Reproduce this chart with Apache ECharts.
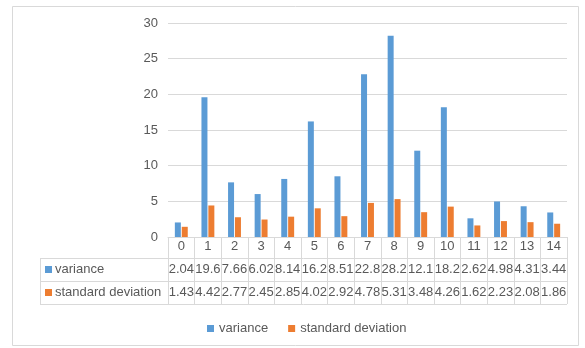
<!DOCTYPE html>
<html><head><meta charset="utf-8">
<script src="https://cdn.jsdelivr.net/npm/echarts@6/dist/echarts.min.js"></script>
<style>html,body{margin:0;padding:0;background:#fff}#c{width:585px;height:348px}</style>
</head><body><div id="c"></div>
<script>
var categories = ['0','1','2','3','4','5','6','7','8','9','10','11','12','13','14'];
var variance = [2.04,19.6,7.66,6.02,8.14,16.2,8.51,22.8,28.2,12.1,18.2,2.62,4.98,4.31,3.44];
var stdDev = [1.43,4.42,2.77,2.45,2.85,4.02,2.92,4.78,5.31,3.48,4.26,1.62,2.23,2.08,1.86];
var seriesNames = ['variance','standard deviation'];
var yTicks = [0,5,10,15,20,25,30];

var FONT = '"Liberation Sans Narrow","Liberation Sans",sans-serif';
var FS = 13;
var TXT = '#595959';
var LINE = '#d9d9d9';
var BLUE = '#5b9bd5', ORANGE = '#ed7d31';

var chart = echarts.init(document.getElementById('c'), null, {renderer:'canvas'});
var gridL = 168, gridR = 567, gridT = 23, gridB = 237;
var tableL = 40;
var rowY = [237, 258, 281, 304];

var graphics = [
  {type:'rect', shape:{x:12.5,y:6.5,width:566,height:339}, style:{fill:'none',stroke:LINE,lineWidth:1}, silent:true},
  {type:'line', shape:{x1:tableL,y1:rowY[1]+0.5,x2:gridR,y2:rowY[1]+0.5}, style:{stroke:LINE}},
  {type:'line', shape:{x1:tableL,y1:rowY[2]+0.5,x2:gridR,y2:rowY[2]+0.5}, style:{stroke:LINE}},
  {type:'line', shape:{x1:tableL,y1:rowY[3]+0.5,x2:gridR,y2:rowY[3]+0.5}, style:{stroke:LINE}},
  {type:'line', shape:{x1:tableL+0.5,y1:rowY[1],x2:tableL+0.5,y2:rowY[3]}, style:{stroke:LINE}},
  {type:'rect', shape:{x:45,y:266,width:7,height:7}, style:{fill:BLUE}},
  {type:'text', x:55, y:269.5, style:{text:seriesNames[0], font:FS+'px '+FONT, fill:TXT, textVerticalAlign:'middle'}},
  {type:'rect', shape:{x:45,y:289,width:7,height:7}, style:{fill:ORANGE}},
  {type:'text', x:55, y:292.5, style:{text:seriesNames[1], font:FS+'px '+FONT, fill:TXT, textVerticalAlign:'middle'}}
];

function hiddenAxisFor(values, offset) {
  return {
    type:'category', data: values.map(String), position:'bottom', offset: offset,
    axisLine:{show:false}, axisTick:{show:false}, splitLine:{show:false},
    axisLabel:{color:TXT, fontSize:FS, fontFamily:FONT, interval:0, margin:4}
  };
}

chart.setOption({
  animation:false,
  backgroundColor:'#fff',
  textStyle:{fontFamily:FONT},
  grid:{left:gridL, right:585-gridR, top:gridT, bottom:348-gridB, containLabel:false},
  legend:{
    data:seriesNames, top:317, left:202, icon:'rect', itemWidth:7, itemHeight:7, itemGap:20,
    textStyle:{color:TXT, fontSize:FS, fontFamily:FONT}
  },
  xAxis:[
    {
      type:'category', data:categories,
      axisLine:{show:true, lineStyle:{color:LINE}},
      axisTick:{show:true, length:67, interval:0, lineStyle:{color:LINE}},
      axisLabel:{color:TXT, fontSize:FS, fontFamily:FONT, interval:0, margin:3},
      splitLine:{show:false}
    },
    hiddenAxisFor(variance, 22),
    hiddenAxisFor(stdDev, 45)
  ],
  yAxis:{
    type:'value', min:yTicks[0], max:yTicks[yTicks.length-1], interval:5,
    axisLine:{show:false}, axisTick:{show:false},
    axisLabel:{color:TXT, fontSize:FS, fontFamily:FONT, margin:10},
    splitLine:{lineStyle:{color:LINE}}
  },
  series:[
    {name:seriesNames[0], type:'bar', data:variance, barWidth:6, barGap:'15%', itemStyle:{color:BLUE}},
    {name:seriesNames[1], type:'bar', data:stdDev, barWidth:6, barGap:'15%', itemStyle:{color:ORANGE}}
  ],
  graphic:graphics
});
</script>
</body></html>
